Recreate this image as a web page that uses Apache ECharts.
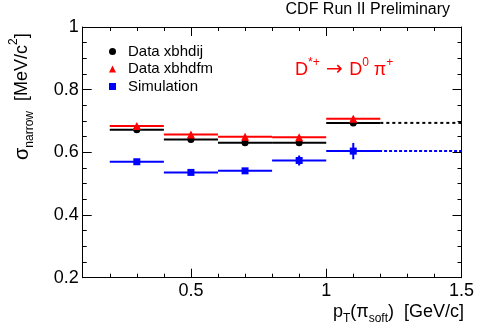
<!DOCTYPE html>
<html><head><meta charset="utf-8">
<script src="https://cdn.jsdelivr.net/npm/echarts@6/dist/echarts.min.js"></script>
<style>html,body{margin:0;padding:0;background:#fff}#c{width:477px;height:329px}</style>
</head><body><div id="c"></div>
<script>
// ---- data ----
const binLow = [0.2, 0.4, 0.6, 0.8, 1.0];
const binHigh = [0.4, 0.6, 0.8, 1.0, 1.2];
const binCenter = [0.3, 0.5, 0.7, 0.9, 1.1];
const xbhdij = [0.672, 0.641, 0.631, 0.631, 0.694];
const xbhdijErr = [0.005, 0.005, 0.005, 0.005, 0.006];
const xbhdfm = [0.684, 0.657, 0.650, 0.648, 0.707];
const xbhdfmErr = [0.006, 0.006, 0.006, 0.006, 0.007];
const simulation = [0.570, 0.536, 0.541, 0.574, 0.604];
const simulationErr = [0.004, 0.004, 0.004, 0.016, 0.026];
const extX = [1.2, 1.5];
const extXbhdij = [0.694, 0.694];
const extSimX = [1.14, 1.5];
const extSimulation = [0.604, 0.604];
const xTickLabels = [0.5, 1, 1.5];
const xMajorTicks = [0.5, 1.0, 1.5];
const yTickLabels = [0.2, 0.4, 0.6, 0.8, 1];
const seriesNames = ['Data xbhdij', 'Data xbhdfm', 'Simulation'];

const FONT = 'Liberation Sans, Arial, sans-serif';
const RED = '#ff0000', BLUE = '#0000ff', BLACK = '#000000';

function binData(vals, errs) {
  return binLow.map((lo, i) => [lo, binHigh[i], vals[i], errs[i]]);
}
function binRenderer(color) {
  return function (params, api) {
    const y = api.value(2), e = api.value(3);
    const c = (api.value(0) + api.value(1)) / 2;
    const lo = api.coord([api.value(0), y]);
    const hi = api.coord([api.value(1), y]);
    const et = api.coord([c, y + e]);
    const eb = api.coord([c, y - e]);
    return {
      type: 'group', children: [
        { type: 'line', shape: { x1: lo[0], y1: lo[1], x2: hi[0], y2: hi[1] }, style: { stroke: color, lineWidth: 2 } },
        { type: 'line', shape: { x1: et[0], y1: et[1], x2: eb[0], y2: eb[1] }, style: { stroke: color, lineWidth: 2 } }
      ]
    };
  };
}
function pts(vals) { return binCenter.map((x, i) => [x, vals[i]]); }
function fmt(v) { return String(+(+v).toFixed(2)); }
function isLabel(v) { return xTickLabels.some(t => Math.abs(t - v) < 1e-6); }

const X = { min: 0.1, max: 1.5 };
const Y = { min: 0.2, max: 1.0 };
const lineStyle = { color: BLACK, width: 1 };

const chart = echarts.init(document.getElementById('c'), null, { renderer: 'canvas' });
chart.setOption({
  animation: false,
  backgroundColor: '#fff',
  textStyle: { fontFamily: FONT },
  grid: { left: 82.7, right: 14.3, top: 27, bottom: 51.3, containLabel: false },
  xAxis: [
    { type: 'value', position: 'bottom', min: X.min, max: X.max, interval: 0.1,
      axisLine: { show: true, lineStyle }, splitLine: { show: false },
      axisTick: { show: true, inside: true, length: 4, lineStyle },
      axisLabel: { show: true, margin: 4, fontSize: 18, color: BLACK, fontFamily: FONT,
        formatter: v => isLabel(v) ? fmt(v) : '' } },
    { type: 'value', position: 'bottom', min: X.min, max: X.max,
      axisLine: { show: false }, splitLine: { show: false }, axisLabel: { show: false },
      axisTick: { show: true, inside: true, length: 9, lineStyle, customValues: xMajorTicks } },
    { type: 'value', position: 'top', min: X.min, max: X.max, interval: 0.1,
      axisLine: { show: true, lineStyle }, splitLine: { show: false }, axisLabel: { show: false },
      axisTick: { show: true, inside: true, length: 4, lineStyle } },
    { type: 'value', position: 'top', min: X.min, max: X.max,
      axisLine: { show: false }, splitLine: { show: false }, axisLabel: { show: false },
      axisTick: { show: true, inside: true, length: 9, lineStyle, customValues: xMajorTicks } }
  ],
  yAxis: [
    { type: 'value', position: 'left', min: Y.min, max: Y.max, interval: 0.2,
      axisLine: { show: true, lineStyle }, splitLine: { show: false },
      axisTick: { show: true, inside: true, length: 9, lineStyle },
      minorTick: { show: true, splitNumber: 4, length: 4, lineStyle },
      minorSplitLine: { show: false },
      axisLabel: { show: true, margin: 4, fontSize: 18, color: BLACK, fontFamily: FONT, formatter: fmt } },
    { type: 'value', position: 'right', min: Y.min, max: Y.max, interval: 0.2,
      axisLine: { show: true, lineStyle }, splitLine: { show: false },
      axisTick: { show: true, inside: true, length: 9, lineStyle },
      minorTick: { show: true, splitNumber: 4, length: 4, lineStyle },
      axisLabel: { show: false } }
  ],
  legend: {
    data: seriesNames, orient: 'vertical', left: 104, top: 38,
    itemWidth: 7, itemHeight: 7, itemGap: 0.5,
    textStyle: { fontSize: 15, color: BLACK, fontFamily: FONT, lineHeight: 17, padding: [0, 0, 0, 7] }
  },
  series: [
    { type: 'custom', name: 'xbhdij bins', renderItem: binRenderer(BLACK), data: binData(xbhdij, xbhdijErr),
      encode: { x: [0, 1], y: 2 }, z: 2 },
    { type: 'custom', name: 'xbhdfm bins', renderItem: binRenderer(RED), data: binData(xbhdfm, xbhdfmErr),
      encode: { x: [0, 1], y: 2 }, z: 2 },
    { type: 'custom', name: 'sim bins', renderItem: binRenderer(BLUE), data: binData(simulation, simulationErr),
      encode: { x: [0, 1], y: 2 }, z: 2 },
    { type: 'line', name: 'xbhdij ext', data: extX.map((x, i) => [x, extXbhdij[i]]), showSymbol: false, symbol: 'none',
      lineStyle: { color: BLACK, width: 2, type: [3, 3] }, z: 1 },
    { type: 'line', name: 'sim ext', data: extSimX.map((x, i) => [x, extSimulation[i]]), showSymbol: false, symbol: 'none',
      lineStyle: { color: BLUE, width: 2, type: [3, 2] }, z: 3 },
    { type: 'scatter', name: seriesNames[0], data: pts(xbhdij), symbol: 'circle', symbolSize: 7,
      itemStyle: { color: BLACK, opacity: 1 }, z: 5 },
    { type: 'scatter', name: seriesNames[1], data: pts(xbhdfm), symbol: 'triangle', symbolSize: 8,
      itemStyle: { color: RED, opacity: 1 }, z: 5 },
    { type: 'scatter', name: seriesNames[2], data: pts(simulation), symbol: 'rect', symbolSize: 7,
      itemStyle: { color: BLUE, opacity: 1 }, z: 5 }
  ],
  graphic: [
    { type: 'text', x: 450, y: 18, style: { text: 'CDF Run II Preliminary', font: '16px ' + FONT, fill: BLACK,
      align: 'right', textAlign: 'right', verticalAlign: 'alphabetic', textVerticalAlign: 'bottom' } },
    { type: 'text', x: 295, y: 70, style: {
      text: '{m|D}{sp|*+}{a| \u2192 }{m|D}{sp|0}{m| \u03c0}{sp|+}',
      fill: RED, align: 'left', textAlign: 'left', verticalAlign: 'middle', textVerticalAlign: 'middle',
      rich: {
        m: { fontSize: 18, fontFamily: FONT, fill: RED, lineHeight: 26, verticalAlign: 'middle' },
        a: { fontSize: 20, fontFamily: 'DejaVu Sans', fill: RED, lineHeight: 26, verticalAlign: 'middle' },
        sp: { fontSize: 12, fontFamily: FONT, fill: RED, lineHeight: 12, verticalAlign: 'top' }
      } } },
    { type: 'text', x: 22, y: 160, rotation: Math.PI / 2, style: {
      text: '{s|\u03c3}{sub|narrow}{m|  [MeV/c}{sp|2}{m|]}',
      fill: BLACK, align: 'left', textAlign: 'left', verticalAlign: 'middle', textVerticalAlign: 'middle',
      rich: {
        s: { fontSize: 20, fontFamily: FONT, fill: BLACK, lineHeight: 28, verticalAlign: 'middle' },
        m: { fontSize: 18, fontFamily: FONT, fill: BLACK, lineHeight: 28, verticalAlign: 'middle' },
        sub: { fontSize: 12, fontFamily: FONT, fill: BLACK, lineHeight: 12, verticalAlign: 'bottom' },
        sp: { fontSize: 12, fontFamily: FONT, fill: BLACK, lineHeight: 12, verticalAlign: 'top' }
      } } },
    { type: 'text', x: 464, y: 312, style: {
      text: '{m|p}{sub|T}{m|(\u03c0}{sub|soft}{m|)  [GeV/c]}',
      fill: BLACK, align: 'right', textAlign: 'right', verticalAlign: 'middle', textVerticalAlign: 'middle',
      rich: {
        m: { fontSize: 18, fontFamily: FONT, fill: BLACK, lineHeight: 26, verticalAlign: 'middle' },
        sub: { fontSize: 12, fontFamily: FONT, fill: BLACK, lineHeight: 12, verticalAlign: 'bottom' }
      } } }
  ]
});
</script>
</body></html>
